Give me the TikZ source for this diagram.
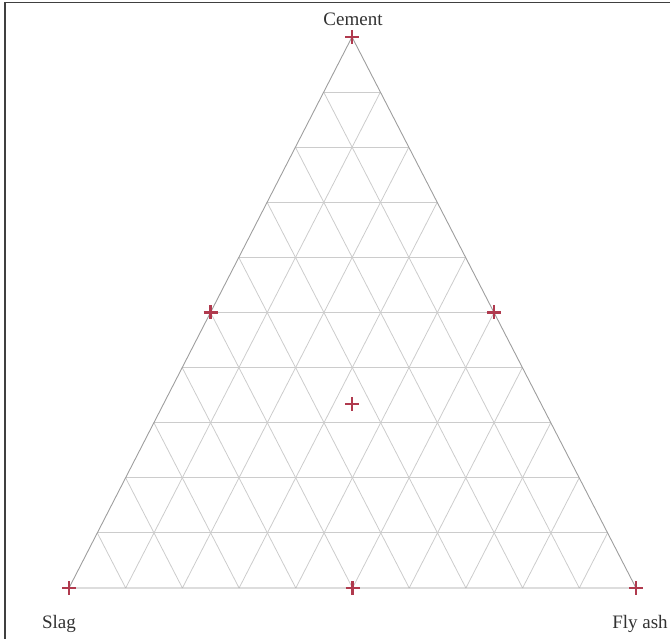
\documentclass[tikz,border=0pt]{standalone}
\usepackage{fontspec}
\setmainfont{Liberation Serif}
\usepackage{xcolor}
\usetikzlibrary{calc}
\definecolor{mk}{RGB}{176,58,78}
\definecolor{lbl}{RGB}{50,50,50}

\begin{document}
\begin{tikzpicture}[
      x=1pt, y=-1pt,
      gridline/.style={draw=black!20, line width=0.8pt},
      edge/.style={draw=black!38, line width=0.9pt},
      plusmark/.style={draw=mk, line width=2.3pt},
      corner/.style={font=\fontsize{19}{22}\selectfont, text=lbl, inner sep=0pt, anchor=base},
]
\useasboundingbox (0,0) rectangle (670,639);
\draw[black!75, line width=1.5pt] (5,639) -- (5,2.5) -- (670,2.5);

% vertices of the ternary diagram
\coordinate (C) at (352,37);
\coordinate (S) at (69,588);
\coordinate (F) at (636,588);

% grid, ten parts a side
\foreach \i in {1,...,9} {
  \draw[gridline] ($(C)!\i/10!(S)$) -- ($(C)!\i/10!(F)$);
  \draw[gridline] ($(F)!\i/10!(C)$) -- ($(F)!\i/10!(S)$);
  \draw[gridline] ($(S)!\i/10!(C)$) -- ($(S)!\i/10!(F)$);
}
\draw[edge] (C) -- (S) -- (F) -- cycle;

\coordinate (CS) at ($(C)!0.5!(S)$);
\coordinate (CF) at ($(C)!0.5!(F)$);
\coordinate (SF) at ($(S)!0.5!(F)$);
\coordinate (mid) at ($(C)!2/3!(SF)$);

\foreach \p in {C,S,F,CS,CF,SF,mid}
  \draw[plusmark] ($(\p)+(-7,0)$) -- ($(\p)+(7,0)$) ($(\p)+(0,-7)$) -- ($(\p)+(0,7)$);

\node[corner] (cement) at (353,26) {Cement};
\node[corner] (slag) at (59,628) {Slag};
\node[corner] (flyash) at (640,628) {Fly ash};

\end{tikzpicture}
\end{document}
